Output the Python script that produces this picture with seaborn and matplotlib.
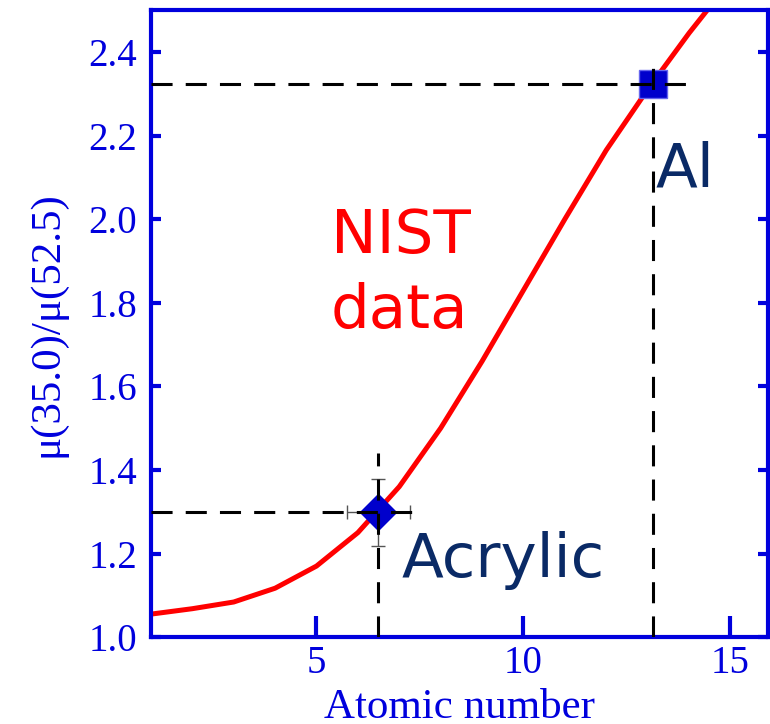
import numpy as np
import pandas as pd
import seaborn as sns
import matplotlib.pyplot as plt

# NIST ratio mu(35.0)/mu(52.5) vs atomic number
z_nist = [1, 2, 3, 4, 5, 6, 7, 8, 9, 10, 11, 12, 13, 14, 15]
ratio_nist = [1.055, 1.068, 1.084, 1.117, 1.17, 1.25, 1.36, 1.50, 1.66, 1.83,
              2.00, 2.165, 2.31, 2.445, 2.57]

# measured points
al_z, al_ratio = 13.14, 2.323
acr_z, acr_ratio = 6.49, 1.299
acr_zerr, acr_rerr = 0.76, 0.08

sns.set_style("ticks")
plt.rcParams['font.family'] = ['Liberation Serif', 'DejaVu Serif']

blue = '#0000dd'
navy = '#0a2a66'

fig = plt.figure(figsize=(7.7, 7.24), dpi=100)
ax = fig.add_axes([0.196, 0.12, 0.801, 0.866])

df = pd.DataFrame({'Z': z_nist, 'ratio': ratio_nist})
sns.lineplot(data=df, x='Z', y='ratio', color='red', lw=3.6, ax=ax, zorder=2)

dash = dict(color='black', lw=2.2, dashes=(6.9, 4.3), zorder=5)
# Al guide lines
ax.plot([1, 14.2], [al_ratio, al_ratio], **dash)
ax.plot([al_z, al_z], [1.0, 2.37], **dash)
# Acrylic guide lines
ax.plot([1, 7.6], [acr_ratio, acr_ratio], **dash)
ax.plot([acr_z, acr_z], [1.0, 1.44], **dash)

ax.errorbar(acr_z, acr_ratio, xerr=acr_zerr, yerr=acr_rerr, fmt='none',
            ecolor='#555555', elinewidth=1, capsize=5, capthick=1, zorder=3)
ax.plot(acr_z, acr_ratio, marker='D', ms=18, color='#0000cc', mec='#0000cc',
        ls='none', zorder=4)
ax.plot(al_z, al_ratio, marker='s', ms=20, color='#0000cc', mec='#6666ee',
        mew=1, ls='none', zorder=4)

tfont = ['DejaVu Sans']
ax.text(5.35, 1.92, 'NIST', color='red', fontsize=44, family=tfont)
ax.text(5.35, 1.74, 'data', color='red', fontsize=44, family=tfont)
ax.text(13.2, 2.077, 'Al', color=navy, fontsize=44, family=tfont)
ax.text(7.05, 1.144, 'Acrylic', color=navy, fontsize=44, family=tfont)

ax.set_xlim(1, 15.9)
ax.set_ylim(1.0, 2.5)
ax.set_xticks([5, 10, 15])
ax.set_yticks([1.0, 1.2, 1.4, 1.6, 1.8, 2.0, 2.2, 2.4])
ax.set_yticklabels(['1.0', '1.2', '1.4', '1.6', '1.8', '2.0', '2.2', '2.4'])

ax.set_xlabel('Atomic number', color=blue, fontsize=31, labelpad=4)
ax.set_ylabel('μ(35.0)/μ(52.5)', color=blue, fontsize=31, labelpad=16)

for s in ax.spines.values():
    s.set_visible(True)
    s.set_color(blue)
    s.set_linewidth(3)
ax.tick_params(axis='x', direction='in', length=15, width=3, color=blue,
               labelcolor=blue, labelsize=28, pad=6, top=False)
ax.tick_params(axis='y', direction='in', length=7, width=3, color=blue,
               labelcolor=blue, labelsize=28, pad=10, right=True)

fig.savefig('out.png', dpi=100)
